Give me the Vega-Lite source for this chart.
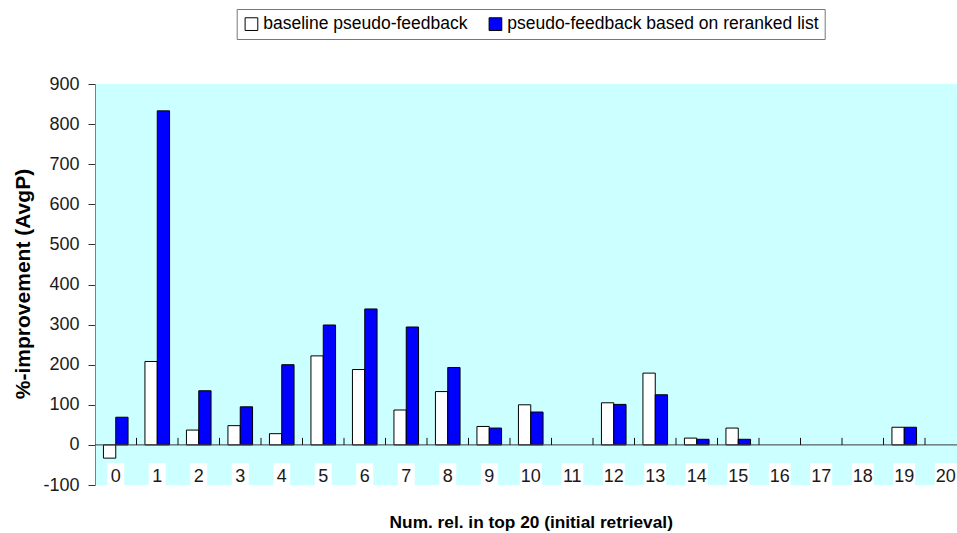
{
  "$schema": "https://vega.github.io/schema/vega-lite/v6.json",
  "width": 862,
  "height": 401,
  "autosize": {"type": "none"},
  "padding": {"left": 95, "top": 84, "right": 0, "bottom": 48},
  "background": "white",
  "config": {
    "view": {"fill": "#CCFFFF", "stroke": null},
    "font": "Liberation Sans"
  },
  "datasets": {
    "bars": [
      {"n": 0, "series": "baseline pseudo-feedback", "value": -33},
      {"n": 0, "series": "pseudo-feedback based on reranked list", "value": 69},
      {"n": 1, "series": "baseline pseudo-feedback", "value": 208},
      {"n": 1, "series": "pseudo-feedback based on reranked list", "value": 833},
      {"n": 2, "series": "baseline pseudo-feedback", "value": 37},
      {"n": 2, "series": "pseudo-feedback based on reranked list", "value": 135},
      {"n": 3, "series": "baseline pseudo-feedback", "value": 48},
      {"n": 3, "series": "pseudo-feedback based on reranked list", "value": 95},
      {"n": 4, "series": "baseline pseudo-feedback", "value": 28},
      {"n": 4, "series": "pseudo-feedback based on reranked list", "value": 200},
      {"n": 5, "series": "baseline pseudo-feedback", "value": 222},
      {"n": 5, "series": "pseudo-feedback based on reranked list", "value": 299},
      {"n": 6, "series": "baseline pseudo-feedback", "value": 188},
      {"n": 6, "series": "pseudo-feedback based on reranked list", "value": 339},
      {"n": 7, "series": "baseline pseudo-feedback", "value": 87},
      {"n": 7, "series": "pseudo-feedback based on reranked list", "value": 294},
      {"n": 8, "series": "baseline pseudo-feedback", "value": 133},
      {"n": 8, "series": "pseudo-feedback based on reranked list", "value": 193},
      {"n": 9, "series": "baseline pseudo-feedback", "value": 46},
      {"n": 9, "series": "pseudo-feedback based on reranked list", "value": 42},
      {"n": 10, "series": "baseline pseudo-feedback", "value": 100},
      {"n": 10, "series": "pseudo-feedback based on reranked list", "value": 82},
      {"n": 12, "series": "baseline pseudo-feedback", "value": 105},
      {"n": 12, "series": "pseudo-feedback based on reranked list", "value": 101},
      {"n": 13, "series": "baseline pseudo-feedback", "value": 179},
      {"n": 13, "series": "pseudo-feedback based on reranked list", "value": 125},
      {"n": 14, "series": "baseline pseudo-feedback", "value": 17},
      {"n": 14, "series": "pseudo-feedback based on reranked list", "value": 14},
      {"n": 15, "series": "baseline pseudo-feedback", "value": 42},
      {"n": 15, "series": "pseudo-feedback based on reranked list", "value": 14},
      {"n": 19, "series": "baseline pseudo-feedback", "value": 44},
      {"n": 19, "series": "pseudo-feedback based on reranked list", "value": 44}
    ],
    "cats": [
      {"n": 0}, {"n": 1}, {"n": 2}, {"n": 3}, {"n": 4}, {"n": 5}, {"n": 6},
      {"n": 7}, {"n": 8}, {"n": 9}, {"n": 10}, {"n": 11}, {"n": 12}, {"n": 13},
      {"n": 14}, {"n": 15}, {"n": 16}, {"n": 17}, {"n": 18}, {"n": 19}, {"n": 20}
    ]
  },
  "layer": [
    {
      "data": {"name": "bars"},
      "mark": {"type": "bar", "stroke": "black", "strokeWidth": 1},
      "encoding": {
        "x": {"field": "n", "type": "ordinal",
              "scale": {"domain": [0,1,2,3,4,5,6,7,8,9,10,11,12,13,14,15,16,17,18,19,20], "range": [0, 871.5], "paddingInner": 0, "paddingOuter": 0},
              "axis": {"title": "Num. rel. in top 20 (initial retrieval)", "labels": false, "ticks": false, "domain": false,
                       "titleFontSize": 17.3, "titleFontWeight": "bold", "titleColor": "#000000",
                       "titleY": 42, "titleBaseline": "alphabetic", "titlePadding": 0}},
        "xOffset": {"field": "series", "type": "nominal",
                    "scale": {"domain": ["baseline pseudo-feedback", "pseudo-feedback based on reranked list"], "paddingInner": 0, "paddingOuter": 0.687}},
        "y": {"field": "value", "type": "quantitative",
              "scale": {"domain": [-100, 900], "nice": false},
              "axis": {"values": [-100, 0, 100, 200, 300, 400, 500, 600, 700, 800, 900],
                       "labelExpr": "toString(datum.value)",
                       "title": "%-improvement (AvgP)", "titleFontSize": 21, "titleFontWeight": "bold", "titleColor": "#000000",
                       "titleAngle": -90, "titleX": -72, "titleY": 199.5, "titleBaseline": "middle", "titleAlign": "center",
                       "labelFontSize": 18, "labelColor": "#1a1a1a", "labelPadding": 9,
                       "tickSize": 7, "tickColor": "#333333", "domainColor": "#808080", "grid": false}},
        "color": {"field": "series", "type": "nominal",
                  "scale": {"domain": ["baseline pseudo-feedback", "pseudo-feedback based on reranked list"], "range": ["#FFFFFF", "#0000FF"]},
                  "legend": {"orient": "none", "legendX": 141.7, "legendY": -75, "direction": "horizontal", "title": null,
                             "symbolType": "square", "symbolSize": 161, "symbolStrokeColor": "black", "symbolStrokeWidth": 1, "symbolOpacity": 1,
                             "labelFontSize": 17.5, "labelColor": "#000000", "labelOffset": 3, "labelLimit": 500,
                             "columnPadding": 19, "padding": 6, "strokeColor": "#777777", "fillColor": "white"}}
      }
    },
    {
      "data": {"name": "cats"},
      "mark": {"type": "bar", "color": "white"},
      "encoding": {
        "x": {"field": "n", "type": "ordinal",
              "axis": {"title": "Num. rel. in top 20 (initial retrieval)", "labels": false, "ticks": false, "domain": false,
                       "titleFontSize": 17.3, "titleFontWeight": "bold", "titleColor": "#000000",
                       "titleY": 42, "titleBaseline": "alphabetic", "titlePadding": 0}},
        "y": {"datum": -100, "type": "quantitative"},
        "y2": {"datum": -45},
        "size": {"condition": {"test": "datum.n >= 10", "value": 22}, "value": 17}
      }
    },
    {
      "data": {"values": [{}]},
      "mark": {"type": "rule", "color": "#3a3a3a", "strokeWidth": 1},
      "encoding": {
        "y": {"datum": 0, "type": "quantitative"}
      }
    },
    {
      "data": {"name": "cats"},
      "transform": [{"filter": "datum.n >= 1"}],
      "mark": {"type": "rule", "color": "#111111", "strokeWidth": 1},
      "encoding": {
        "x": {"field": "n", "type": "ordinal", "bandPosition": 0,
              "axis": {"title": "Num. rel. in top 20 (initial retrieval)", "labels": false, "ticks": false, "domain": false,
                       "titleFontSize": 17.3, "titleFontWeight": "bold", "titleColor": "#000000",
                       "titleY": 42, "titleBaseline": "alphabetic", "titlePadding": 0}},
        "y": {"datum": 0, "type": "quantitative"},
        "y2": {"datum": 17.5}
      }
    },
    {
      "data": {"name": "cats"},
      "mark": {"type": "text", "fontSize": 18, "baseline": "middle", "align": "center", "color": "#1a1a1a"},
      "encoding": {
        "x": {"field": "n", "type": "ordinal",
              "axis": {"title": "Num. rel. in top 20 (initial retrieval)", "labels": false, "ticks": false, "domain": false,
                       "titleFontSize": 17.3, "titleFontWeight": "bold", "titleColor": "#000000",
                       "titleY": 42, "titleBaseline": "alphabetic", "titlePadding": 0}},
        "y": {"datum": -80, "type": "quantitative"},
        "text": {"field": "n", "type": "ordinal"}
      }
    }
  ]
}
